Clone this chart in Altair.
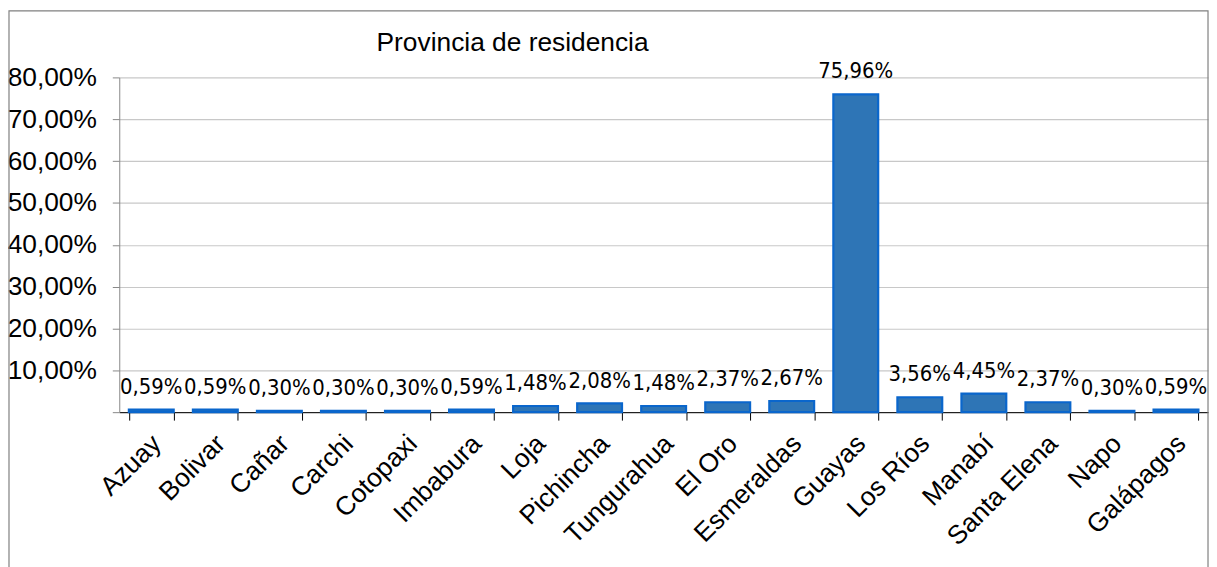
import altair as alt
import pandas as pd

provincias = ["Azuay", "Bolivar", "Cañar", "Carchi", "Cotopaxi", "Imbabura", "Loja",
              "Pichincha", "Tungurahua", "El Oro", "Esmeraldas", "Guayas", "Los Ríos",
              "Manabí", "Santa Elena", "Napo", "Galápagos"]
porcentajes = [0.59, 0.59, 0.30, 0.30, 0.30, 0.59, 1.48, 2.08, 1.48, 2.37, 2.67,
               75.96, 3.56, 4.45, 2.37, 0.30, 0.59]
titulo = "Provincia de residencia"

df = pd.DataFrame({"prov": provincias, "pct": porcentajes})
df["lbl"] = [f"{v:.2f}".replace(".", ",") + "%" for v in porcentajes]

W, H = 1096, 337
FS = 26.5

x = alt.X("prov:N", sort=None, title=None,
          scale=alt.Scale(paddingInner=0.3, paddingOuter=0.15),
          axis=alt.Axis(labelAngle=-45, labelAlign="right", labelBaseline="top",
                        labelFont="Liberation Sans", labelFontSize=FS, labelColor="#000000",
                        labelPadding=10, labelOffset=-4, tickBand="extent", tickSize=8,
                        tickColor="#000000", domainColor="#000000", grid=False,
                        labelOverlap=False))
y = alt.Y("pct:Q", title=None,
          scale=alt.Scale(domain=[0, 80], nice=False),
          axis=alt.Axis(values=[0, 10, 20, 30, 40, 50, 60, 70, 80],
                        labelExpr="datum.value == 0 ? '' : replace(format(datum.value, '.2f'), '.', ',') + '%'",
                        labelFont="Liberation Sans", labelFontSize=FS, labelColor="#000000",
                        labelPadding=16, tickSize=7, tickColor="#888888",
                        domainColor="#888888", gridColor="#c8c8c8", gridWidth=1.2))

base = alt.Chart(df)
bars = base.mark_bar(color="#2E75B6", stroke="#0A66CC", strokeWidth=2.2).encode(x=x, y=y)
labels = base.mark_text(font="DejaVu Sans Condensed", fontSize=22, baseline="middle",
                        dy=-23, color="#000000").encode(
    x=alt.X("prov:N", sort=None), y="pct:Q", text="lbl:N")

tdf = pd.DataFrame({"t": [titulo]})
title_layer = alt.Chart(tdf).mark_text(font="Liberation Sans", fontSize=FS, align="left",
                                       baseline="alphabetic", color="#000000").encode(
    x=alt.value(259), y=alt.value(-27), text="t:N")
border = alt.Chart(tdf).mark_rect(fill=None, stroke="#808080", strokeWidth=1.2).encode(
    x=alt.value(-111), x2=alt.value(1096), y=alt.value(-67), y2=alt.value(600))

chart = alt.layer(border, bars, labels, title_layer).properties(
    width=W, height=H,
    autosize=alt.AutoSizeParams(type="none"),
    padding={"left": 112, "top": 68, "right": 1, "bottom": 154},
).configure_view(strokeWidth=0)

chart.save("out.html", embed_options={"renderer": "svg", "actions": False})
